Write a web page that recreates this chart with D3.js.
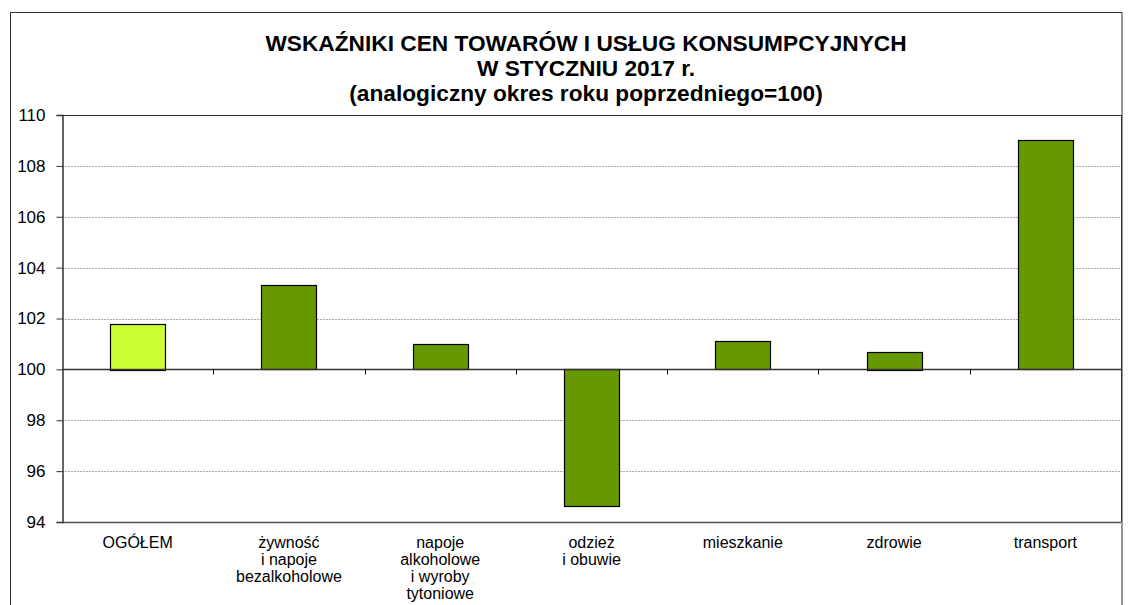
<!DOCTYPE html>
<html><head><meta charset="utf-8">
<script src="https://cdn.jsdelivr.net/npm/d3@7"></script>
<style>body{margin:0;background:#fff}svg{display:block;font-family:"Liberation Sans",Arial,sans-serif}</style>
</head><body><svg id="c" width="1133" height="605"></svg>
<script>
const categories = [["OGÓŁEM"],["żywność","i napoje","bezalkoholowe"],["napoje","alkoholowe","i wyroby","tytoniowe"],["odzież","i obuwie"],["mieszkanie"],["zdrowie"],["transport"]];
const values = [101.8, 103.3, 101.0, 94.6, 101.1, 100.7, 109.0];
const yTicks = [94, 96, 98, 100, 102, 104, 106, 108, 110];
const titleLines = ["WSKAŹNIKI CEN TOWARÓW I USŁUG KONSUMPCYJNYCH","W STYCZNIU 2017 r.","(analogiczny okres roku poprzedniego=100)"];

const svg = d3.select("#c");
const L = 62, R = 1121, T = 115, B = 522;
const x = d3.scaleBand().domain(d3.range(values.length)).range([L, R]).paddingInner(0).paddingOuter(0);
const y = d3.scaleLinear().domain([94, 110]).range([B, T]);

// outer frame
svg.append("rect").attr("x",10.5).attr("y",12.5).attr("width",1111.5).attr("height",620).attr("fill","none").attr("stroke","#333").attr("stroke-width",1);

// title
svg.append("g").selectAll("text").data(titleLines).join("text")
  .attr("x",586).attr("y",(d,i)=>51+i*25).attr("text-anchor","middle")
  .attr("font-weight","bold").attr("font-size",22.7).attr("fill","#000").text(d=>d);

// gridlines
svg.append("g").selectAll("line").data(yTicks.filter(v=>v!==94 && v!==100 && v!==110)).join("line")
  .attr("x1",L).attr("x2",R).attr("y1",d=>Math.round(y(d))+0.5).attr("y2",d=>Math.round(y(d))+0.5)
  .attr("stroke","#aaa").attr("stroke-dasharray","2,1").attr("stroke-width",1);

// plot frame top/right/bottom
svg.append("line").attr("x1",L).attr("x2",R).attr("y1",T+0.5).attr("y2",T+0.5).attr("stroke","#333");
svg.append("line").attr("x1",R+0.5).attr("x2",R+0.5).attr("y1",T).attr("y2",B).attr("stroke","#333");
svg.append("line").attr("x1",L).attr("x2",R).attr("y1",B+0.5).attr("y2",B+0.5).attr("stroke","#555").attr("stroke-width",1.5);

// bars
const bw = 55;
svg.append("g").selectAll("rect").data(values).join("rect")
  .attr("x",(d,i)=>Math.round(x(i)+x.bandwidth()/2-bw/2)+0.5)
  .attr("y",d=>Math.round(y(Math.max(d,100)))+0.5)
  .attr("width",bw)
  .attr("height",d=>Math.round(Math.abs(y(d)-y(100))))
  .attr("fill",(d,i)=>i===0?"#ccff33":"#669900")
  .attr("stroke","#000").attr("stroke-width",1.2);

// category axis at 100
const y100 = Math.round(y(100))+0.5;
svg.append("line").attr("x1",L).attr("x2",R).attr("y1",y100).attr("y2",y100).attr("stroke","#333").attr("stroke-width",1.5);
svg.append("g").selectAll("line").data(d3.range(1,values.length)).join("line")
  .attr("x1",i=>Math.round(x(i))+0.5).attr("x2",i=>Math.round(x(i))+0.5)
  .attr("y1",y100).attr("y2",y100+5).attr("stroke","#000");

// y axis
const yAxis = svg.append("g").attr("transform",`translate(${L+0.5},0)`)
  .call(d3.axisLeft(y).tickValues(yTicks).tickSize(6).tickPadding(11).tickFormat(d3.format("d")));
yAxis.select(".domain").attr("stroke","#333").attr("stroke-width",1.5);
yAxis.selectAll(".tick line").attr("stroke","#333");
yAxis.selectAll(".tick text").attr("font-size",17).attr("fill","#000").attr("font-family","Liberation Sans, Arial, sans-serif");

// category labels
const lab = svg.append("g").selectAll("text").data(categories).join("text")
  .attr("x",(d,i)=>x(i)+x.bandwidth()/2).attr("y",548).attr("text-anchor","middle")
  .attr("font-size",16).attr("fill","#000");
lab.selectAll("tspan").data(d=>d).join("tspan")
  .attr("x",function(){return this.parentNode.getAttribute("x");})
  .attr("dy",(d,i)=>i===0?0:17).text(d=>d);
</script></body></html>
